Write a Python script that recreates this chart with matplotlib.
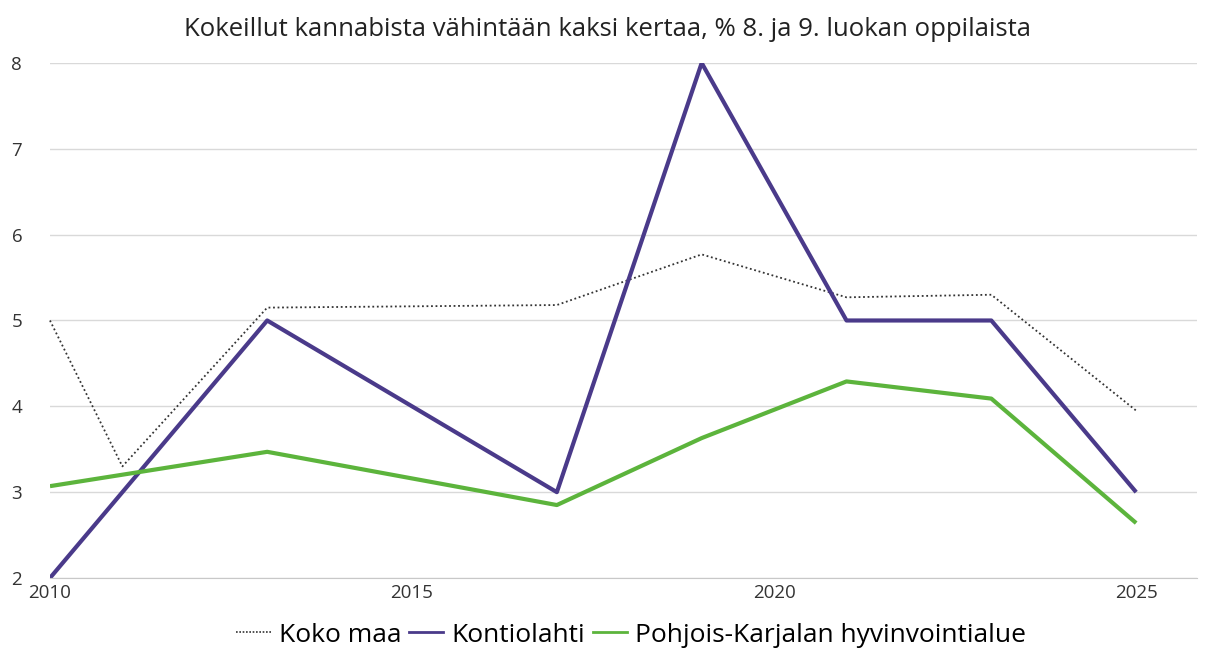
import numpy as np
import matplotlib.pyplot as plt
from matplotlib.lines import Line2D

plt.rcParams['font.family'] = ['Open Sans', 'DejaVu Sans']

# data
vuodet_maa = [2010, 2011, 2013, 2017, 2019, 2021, 2023, 2025]
koko_maa = [5.0, 3.3, 5.15, 5.18, 5.77, 5.27, 5.3, 3.95]

vuodet_kontio = [2010, 2011, 2013, 2017, 2019, 2021, 2023, 2025]
kontiolahti = [2, 3, 5, 3, 8, 5, 5, 3]

vuodet_pk = [2010, 2013, 2017, 2019, 2021, 2023, 2025]
pohjois_karjala = [3.07, 3.47, 2.85, 3.63, 4.29, 4.09, 2.64]

x_tikit = [2010, 2015, 2020, 2025]
y_tikit = [2, 3, 4, 5, 6, 7, 8]

otsikko = "Kokeillut kannabista vähintään kaksi kertaa, % 8. ja 9. luokan oppilaista"
nimet = ["Koko maa", "Kontiolahti", "Pohjois-Karjalan hyvinvointialue"]
varit = ["#333333", "#4a3a8a", "#5cb43c"]

fig = plt.figure(figsize=(12.07, 6.56), dpi=100)
ax = fig.add_axes([0.0414, 0.1189, 0.9503, 0.7851])

ax.plot(vuodet_maa, koko_maa, color=varit[0], linestyle=(0, (1, 1.5)), linewidth=1.3,
        clip_on=False)
ax.plot(vuodet_kontio, kontiolahti, color=varit[1], linewidth=3, solid_capstyle="butt")
ax.plot(vuodet_pk, pohjois_karjala, color=varit[2], linewidth=3, solid_capstyle="butt")

ax.set_xlim(2010, 2025.84)
ax.set_ylim(2, 8)
ax.set_xticks(x_tikit)
ax.set_yticks(y_tikit)
ax.grid(axis="y", color="#d9d9d9", linewidth=1)
ax.set_axisbelow(True)
for s in ["left", "right", "top"]:
    ax.spines[s].set_visible(False)
ax.spines["bottom"].set_color("#c8c8c8")
ax.tick_params(axis="both", length=0, labelsize=13.5, colors="#333333")
ax.tick_params(axis="y", pad=20)
ax.tick_params(axis="x", pad=4)

fig.text(0.503, 0.955, otsikko, ha="center", va="center", fontsize=18.5, color="#222222")

kahvat = [Line2D([], [], color=varit[0], linestyle=(0, (1, 1)), linewidth=1.2),
          Line2D([], [], color=varit[1], linewidth=2),
          Line2D([], [], color=varit[2], linewidth=2)]
fig.legend(kahvat, nimet, loc="center", bbox_to_anchor=(0.523, 0.032), ncol=3,
           frameon=False, fontsize=19, handlelength=1.3, handletextpad=0.3,
           columnspacing=0.3)

fig.savefig("out.png", dpi=100)
